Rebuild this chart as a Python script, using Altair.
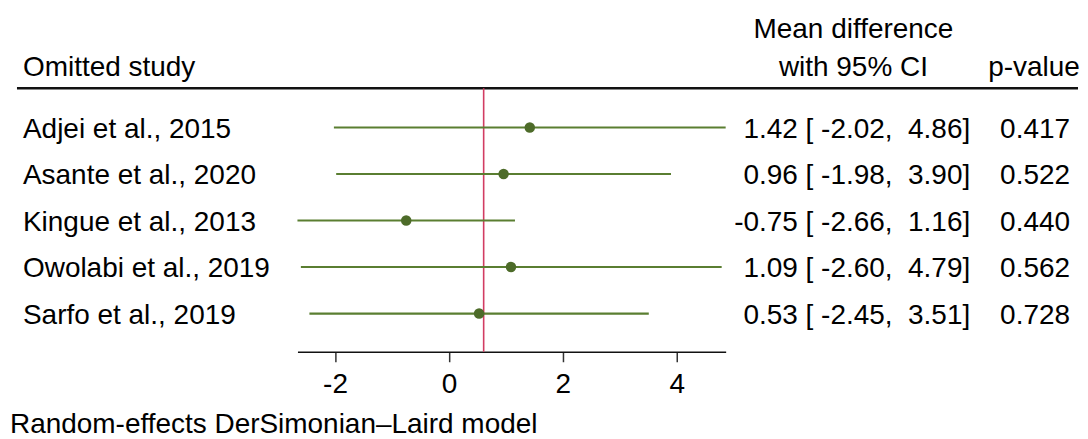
import altair as alt
import pandas as pd

# ---- data ----
studies = ["Adjei et al., 2015", "Asante et al., 2020", "Kingue et al., 2013",
           "Owolabi et al., 2019", "Sarfo et al., 2019"]
estimates = [1.42, 0.96, -0.75, 1.09, 0.53]
lower = [-2.02, -1.98, -2.66, -2.60, -2.45]
upper = [4.86, 3.90, 1.16, 4.79, 3.51]
p_values = [0.417, 0.522, 0.440, 0.562, 0.728]
overall = [0.61]
x_ticks = [-2, 0, 2, 4]
header_left = ["Omitted study"]
header_ci1 = ["Mean difference"]
header_ci2 = ["with 95% CI"]
header_p = ["p-value"]
note = ["Random-effects DerSimonian\u2013Laird model"]

df = pd.DataFrame({
    "study": studies,
    "est": estimates,
    "lo": lower,
    "hi": upper,
    "p": p_values,
    "row": list(range(len(studies))),
})
NB = "\u00a0"
df["ci_text"] = [f"{e:.2f} [{NB}{l:.2f},{NB}{NB}{h:.2f}]" for e, l, h in zip(estimates, lower, upper)]
df["p_text"] = [f"{p:.3f}" for p in p_values]

FONT = "Liberation Sans"
FS = 28
GREEN = "#5a7e31"
DOT = "#4d6b29"
RED = "#d23c62"

W, H = 1072, 344

xscale = alt.Scale(domain=[min(lower), max(upper)], range=[290, 719], nice=False, zero=False)
yscale = alt.Scale(domain=[0, len(studies) - 1], range=[119.3, 305.7])
xaxis = alt.Axis(values=x_ticks, title=None, grid=False, domainColor="#111111", domainWidth=1.5,
                 tickColor="#333333", tickWidth=1.5, tickSize=10, labelFont=FONT,
                 labelFontSize=FS, labelColor="#000000", labelPadding=9,
                 labelExpr="datum.value + ''")


def X(field):
    return alt.X(field, scale=xscale, axis=xaxis)


Y = alt.Y("row:Q", scale=yscale, axis=None)

base = alt.Chart(df)

ci = base.mark_rule(color=GREEN, strokeWidth=2.2).encode(x=X("lo:Q"), x2="hi:Q", y=Y)

ref = alt.Chart(pd.DataFrame({"overall": overall})).mark_rule(color=RED, strokeWidth=1.6).encode(
    x=X("overall:Q"), y=alt.value(80), y2=alt.value(H))

dots = base.mark_circle(size=110, color=DOT, opacity=1).encode(x=X("est:Q"), y=Y)

labels = base.mark_text(align="left", baseline="alphabetic", dy=10.5, font=FONT, fontSize=FS,
                        color="#000000").encode(x=alt.value(15), y=Y, text="study:N")

ci_txt = base.mark_text(align="right", baseline="alphabetic", dy=10.5, font=FONT, fontSize=FS,
                        color="#000000").encode(x=alt.value(964), y=Y, text="ci_text:N")

p_txt = base.mark_text(align="right", baseline="alphabetic", dy=10.5, font=FONT, fontSize=FS,
                       color="#000000").encode(x=alt.value(1064), y=Y, text="p_text:N")


def text_layer(vals, x, y, align):
    return alt.Chart(pd.DataFrame({"t": vals})).mark_text(
        align=align, baseline="alphabetic", font=FONT, fontSize=FS, color="#000000"
    ).encode(x=alt.value(x), y=alt.value(y), text="t:N")


h_left = text_layer(header_left, 15, 68, "left")
h_ci1 = text_layer(header_ci1, 847, 30, "center")
h_ci2 = text_layer(header_ci2, 847, 68, "center")
h_p = text_layer(header_p, 982, 68, "left")
note_t = text_layer(note, 2, 425, "left")

top_line = alt.Chart(pd.DataFrame({"t": [0]})).mark_rule(color="#111111", strokeWidth=2.6).encode(
    x=alt.value(9), x2=alt.value(1072), y=alt.value(80))

chart = alt.layer(
    top_line, ref, ci, dots, labels, ci_txt, p_txt, h_left, h_ci1, h_ci2, h_p, note_t
).properties(width=W, height=H, padding=0, background="#ffffff").configure_view(stroke=None)

chart.save("out.html", embed_options={"renderer": "svg", "actions": False})
